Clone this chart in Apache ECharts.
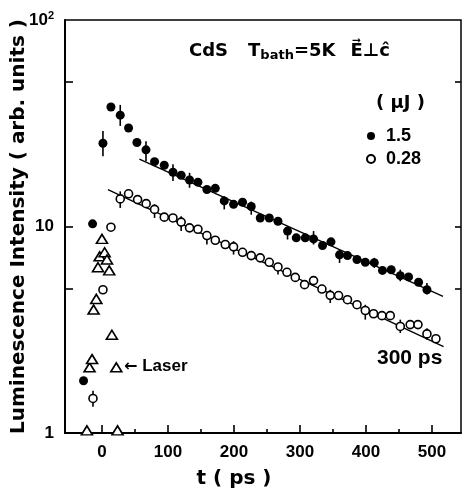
<!DOCTYPE html>
<html><head><meta charset="utf-8">
<script src="https://cdn.jsdelivr.net/npm/echarts@6/dist/echarts.min.js"></script>
<style>html,body{margin:0;padding:0;background:#fff}#c{width:464px;height:489px}</style>
</head><body><div id="c"></div>
<script>
// ---- data (t in ps, intensity in arb. units) ----
const filledT = [-27.9, -14.2, 1.5, 13.6, 27.7, 40.3, 53, 66.7, 79.7, 94.4, 107.6, 120, 132.7, 145.4, 159, 171.7, 185.3, 199.4, 213, 226.2, 239.8, 253.5, 266.7, 281.2, 294.4, 308, 320.6, 334.2, 347, 360, 372, 386.4, 399, 412.6, 425, 438.3, 452, 464.6, 479.7, 492.4];
const filledV = [1.79, 10.3, 25.3, 37.9, 34.6, 30.0, 25.5, 23.5, 20.6, 19.8, 18.3, 17.7, 16.8, 16.4, 15.1, 15.3, 13.3, 12.8, 13.1, 12.5, 11.0, 11.0, 10.6, 9.5, 8.81, 8.81, 8.71, 8.09, 8.43, 7.29, 7.23, 6.92, 6.71, 6.68, 6.13, 6.17, 5.78, 5.70, 5.37, 4.94];
const openT = [-13.6, 1.5, 13.6, 27.7, 40.3, 54, 67, 79.7, 94.4, 107.6, 120, 132.7, 145.4, 159, 171.7, 186.8, 199.4, 213, 226.2, 239.8, 253.5, 266.7, 280.3, 292.9, 307, 320.6, 333.3, 345.9, 358.5, 372, 386.4, 399, 411.5, 424.2, 436.8, 452, 467, 478.8, 492.4, 506];
const openV = [1.47, 4.94, 9.92, 13.6, 14.4, 13.5, 12.9, 12.1, 11.1, 11.0, 10.5, 9.85, 9.7, 9.04, 8.58, 8.18, 7.97, 7.50, 7.23, 7.05, 6.71, 6.37, 6.00, 5.67, 5.23, 5.47, 4.98, 4.64, 4.63, 4.42, 4.18, 3.92, 3.78, 3.70, 3.70, 3.28, 3.35, 3.35, 3.02, 2.86];
const laserT = [-22.8, -18.8, -15, -12.7, -8.6, -6, -3.5, 0, 4, 7.6, 11, 15, 21.7, 23.6];
const laserV = [1.03, 2.08, 2.28, 3.96, 4.46, 6.35, 7.17, 8.71, 7.5, 6.92, 6.13, 2.99, 2.08, 1.03];
// error bars: [t, low, high]
const filledErr = [[1.5,21.9,29.0],[27.7,30.7,38.8],[66.7,20.7,25.9],[107.6,16.6,20.0],[132.7,15.4,18.2],[185.3,12.1,14.0],[226.2,11.4,13.2],[281.2,8.65,9.97],[320.6,8.18,9.5],[360,6.66,7.73],[412.6,6.30,7.05],[452,5.43,6.18],[492.4,4.68,5.33]];
const openErr = [[-13.6,1.34,1.60],[27.7,12.3,14.8],[79.7,11.0,12.8],[120,9.5,11.2],[159,8.18,9.5],[199.4,7.31,8.49],[266.7,5.85,6.66],[345.9,4.26,4.94],[399,3.54,4.18],[452,3.05,3.54],[492.4,2.83,3.22]];
// fitted 300 ps decay lines: [t, value] endpoints
const fitFilled = [[56.7, 21.2], [516.7, 4.59]];
const fitOpen = [[9.1, 15.1], [517.6, 2.62]];
// axis ticks
const xMajor = [0, 100, 200, 300, 400, 500];
const xMinor = [50, 150, 250, 350, 450];
const yTicks = [5, 10, 50];
const yLabels = [1, 10, 100];

const F = '"Liberation Sans", Arial, sans-serif';
const D = '"DejaVu Sans", sans-serif';
const zip = (a, b) => a.map((v, i) => [v, b[i]]);

function errBar(params, api) {
  const p1 = api.coord([api.value(0), api.value(1)]);
  const p2 = api.coord([api.value(0), api.value(2)]);
  return { type: 'line', shape: { x1: p1[0], y1: p1[1], x2: p2[0], y2: p2[1] },
           style: { stroke: '#000', lineWidth: 1.6 } };
}

const chart = echarts.init(document.getElementById('c'));
chart.setOption({
  backgroundColor: '#fff',
  animation: false,
  textStyle: { fontFamily: F, color: '#000' },
  title: {
    text: '{a|CdS}{n|T}{s|bath}{b|=5K}{n|E\u20D7\u22A5\u0109}',
    left: 184, top: 35,
    textStyle: { rich: {
      a: { fontSize: 18, fontWeight: 'bold', fontFamily: D, color: '#000', padding: [0, 20, 0, 0] },
      b: { fontSize: 18, fontWeight: 'bold', fontFamily: D, color: '#000', padding: [0, 15, 0, 0] },
      n: { fontSize: 18, fontWeight: 'bold', fontFamily: D, color: '#000' },
      s: { fontSize: 13, fontWeight: 'bold', fontFamily: D, color: '#000', padding: [9, 0, 0, 0] }
    } }
  },
  legend: {
    data: ['1.5', '0.28'], orient: 'vertical', left: 361, top: 122,
    itemWidth: 20, itemHeight: 8, itemGap: 5,
    textStyle: { fontSize: 18, fontWeight: 'bold', fontFamily: F, color: '#000' }
  },
  grid: { left: 65, right: 3, top: 20, bottom: 56, containLabel: false, outerBoundsMode: 'none',
          show: true, borderColor: '#000', borderWidth: 1.5, backgroundColor: 'transparent' },
  xAxis: [{
    type: 'value', min: -56, max: 544,
    name: 't ( ps )', nameLocation: 'middle', nameGap: 36, nameMoveOverlap: false,
    nameTextStyle: { fontSize: 20, fontWeight: 'bold', fontFamily: D, color: '#000', padding: [0, 58, 0, 0] },
    axisLine: { show: true, onZero: false, lineStyle: { color: '#000', width: 2 } },
    axisTick: { show: true, inside: true, length: 8, customValues: xMajor, lineStyle: { color: '#000', width: 1.6 } },
    axisLabel: { customValues: xMajor, fontSize: 17, fontWeight: 'bold', fontFamily: F, color: '#000', margin: 11 },
    splitLine: { show: false }
  }, {
    type: 'value', min: -56, max: 544, position: 'bottom',
    axisLine: { show: false, onZero: false },
    axisTick: { show: true, inside: true, length: 4, customValues: xMinor, lineStyle: { color: '#000', width: 1.6 } },
    axisLabel: { show: false }, splitLine: { show: false }
  }],
  yAxis: [{
    type: 'log', logBase: 10, min: 1, max: 100,
    name: 'Luminescence Intensity ( arb. units )', nameLocation: 'middle', nameGap: 36, nameMoveOverlap: false,
    nameTextStyle: { fontSize: 20, fontWeight: 'bold', fontFamily: D, color: '#000' },
    axisLine: { show: true, onZero: false, lineStyle: { color: '#000', width: 2 } },
    axisTick: { show: true, inside: true, length: 8, customValues: yTicks, lineStyle: { color: '#000', width: 1.6 } },
    axisLabel: {
      customValues: yLabels, margin: 11,
      formatter: v => v === 100 ? '{n|10}{p|2}' : '{n|' + v + '}',
      rich: {
        n: { fontSize: 17, fontWeight: 'bold', fontFamily: F, color: '#000' },
        p: { fontSize: 11, fontWeight: 'bold', fontFamily: F, color: '#000', padding: [0, 0, 9, 0] }
      }
    },
    splitLine: { show: false }
  }, {
    type: 'log', logBase: 10, min: 1, max: 100, position: 'right',
    axisLine: { show: false, onZero: false },
    axisTick: { show: true, inside: true, length: 6, customValues: yTicks, lineStyle: { color: '#000', width: 1.6 } },
    axisLabel: { show: false }, splitLine: { show: false }
  }],
  graphic: [
    { type: 'text', left: 376, top: 94, style: { text: '( \u03BCJ )', fontSize: 18, fontWeight: 'bold', fontFamily: D, fill: '#000' } },
    { type: 'text', left: 377, top: 348, style: { text: '300 ps', fontSize: 21, fontWeight: 'bold', fontFamily: F, fill: '#000' } },
    { type: 'text', left: 124, top: 358, z: 10, style: {
        text: '{r|\u2190}{l| Laser}',
        rich: {
          r: { fontSize: 16, fontWeight: 'bold', fontFamily: D, fill: '#000' },
          l: { fontSize: 17, fontWeight: 'bold', fontFamily: F, fill: '#000' }
        } } }
  ],
  series: [
    { name: 'fitFilled', type: 'line', data: fitFilled, showSymbol: false, silent: true, z: 1,
      lineStyle: { color: '#000', width: 1.3 } },
    { name: 'fitOpen', type: 'line', data: fitOpen, showSymbol: false, silent: true, z: 1,
      lineStyle: { color: '#000', width: 1.3 } },
    { name: 'errFilled', type: 'custom', renderItem: errBar, data: filledErr, encode: { x: 0, y: [1, 2] }, z: 2 },
    { name: 'errOpen', type: 'custom', renderItem: errBar, data: openErr, encode: { x: 0, y: [1, 2] }, z: 2 },
    { name: '1.5', type: 'scatter', data: zip(filledT, filledV), symbol: 'circle', symbolSize: 9, z: 3,
      itemStyle: { color: '#000', opacity: 1 } },
    { name: '0.28', type: 'scatter', data: zip(openT, openV), symbol: 'circle', symbolSize: 8, z: 3,
      itemStyle: { color: '#fff', borderColor: '#000', borderWidth: 1.6, opacity: 1 } },
    { name: 'Laser', type: 'scatter', data: zip(laserT, laserV), symbol: 'triangle', symbolSize: [11, 9], z: 3,
      itemStyle: { color: '#fff', borderColor: '#000', borderWidth: 1.6, opacity: 1 } }
  ]
});
</script>
</body></html>
